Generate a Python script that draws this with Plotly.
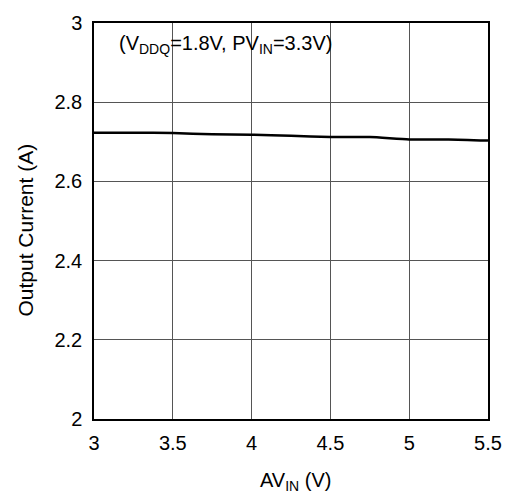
import plotly.graph_objects as go

# Data
av_in = [3.0, 3.25, 3.5, 3.75, 4.0, 4.25, 4.5, 4.75, 5.0, 5.25, 5.5]
output_current = [2.723, 2.723, 2.722, 2.719, 2.718, 2.715, 2.712, 2.712, 2.706, 2.706, 2.703]

x_ticks = [3, 3.5, 4, 4.5, 5, 5.5]
x_tick_labels = ["3", "3.5", "4", "4.5", "5", "5.5"]
y_ticks = [2, 2.2, 2.4, 2.6, 2.8, 3]
y_tick_labels = ["2", "2.2", "2.4", "2.6", "2.8", "3"]

FONT = "Liberation Sans, Arial, sans-serif"

fig = go.Figure()
fig.add_trace(go.Scatter(
    x=av_in, y=output_current, mode="lines",
    line=dict(color="black", width=2.5, shape="spline", smoothing=0.6),
    hoverinfo="skip", showlegend=False,
))

axis_common = dict(
    showline=True, mirror=True, linecolor="black", linewidth=1.5,
    showgrid=True, gridcolor="#555555", gridwidth=1,
    zeroline=False, ticks="outside", tickcolor="rgba(0,0,0,0)",
    tickfont=dict(family=FONT, size=20, color="black"),
)

fig.update_layout(
    width=514, height=495,
    margin=dict(l=94, r=20, t=18, b=76),
    plot_bgcolor="white", paper_bgcolor="white",
    font=dict(family=FONT, size=20, color="black"),
    xaxis=dict(range=[3, 5.5], tickvals=x_ticks, ticktext=x_tick_labels,
               ticklen=5, **axis_common),
    yaxis=dict(range=[2, 3], tickvals=y_ticks, ticktext=y_tick_labels,
               ticklen=6, **axis_common),
    annotations=[
        dict(text="(V<sub>DDQ</sub>=1.8V, PV<sub>IN</sub>=3.3V)",
             xref="paper", yref="paper", x=0.0575, y=0.945,
             xanchor="left", yanchor="middle", showarrow=False,
             font=dict(family=FONT, size=20, color="black")),
        dict(text="Output Current (A)", xref="paper", yref="paper",
             x=-0.175, y=0.476, xanchor="center", yanchor="middle",
             textangle=-90, showarrow=False,
             font=dict(family=FONT, size=21, color="black")),
        dict(text="AV<sub>IN</sub> (V)", xref="paper", yref="paper",
             x=0.5125, y=-0.157, xanchor="center", yanchor="middle",
             showarrow=False,
             font=dict(family=FONT, size=20, color="black")),
    ],
)

fig.write_html(
    "out.html",
    config={"displayModeBar": False},
    post_script="document.body.style.margin='0';document.body.style.overflow='hidden';",
)
